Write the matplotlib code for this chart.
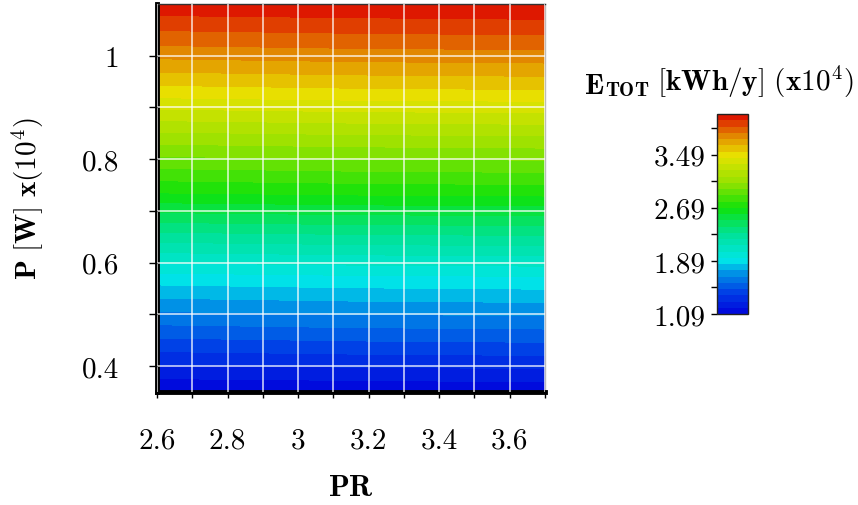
import matplotlib
matplotlib.use("Agg")
import matplotlib.pyplot as plt
import numpy as np
from matplotlib.colors import LinearSegmentedColormap

# grid (PR across, P [x10^4 W] down)
pr_values = [2.6, 3.15, 3.7]
p_values = [0.35, 0.45, 0.57, 0.65, 0.735, 0.85, 0.93, 1.02, 1.10]
e_tot = [
    [1.09, 1.10, 1.11],
    [1.45, 1.47, 1.48],
    [1.89, 1.91, 1.92],
    [2.27, 2.29, 2.30],
    [2.69, 2.71, 2.72],
    [3.15, 3.17, 3.18],
    [3.49, 3.51, 3.52],
    [3.82, 3.84, 3.85],
    [4.08, 4.09, 4.10],
]

x_ticks = [2.6, 2.8, 3.0, 3.2, 3.4, 3.6]
x_labels = ["2.6", "2.8", "3", "3.2", "3.4", "3.6"]
y_ticks = [0.4, 0.6, 0.8, 1.0]
y_labels = ["0.4", "0.6", "0.8", "1"]
cb_ticks = [1.09, 1.89, 2.69, 3.49]
cb_minor = [1.49, 2.29, 3.09, 3.89]
e_min, e_max = 1.09, 4.10

plt.rcParams["font.family"] = "cmr10"
plt.rcParams["mathtext.fontset"] = "cm"
plt.rcParams["axes.formatter.use_mathtext"] = True

cmap = LinearSegmentedColormap.from_list("etot", [
    (0.0, (0/255, 5/255, 220/255)),
    (0.10, (0/255, 60/255, 230/255)),
    (0.20, (0/255, 145/255, 230/255)),
    (0.266, (0/255, 230/255, 232/255)),
    (0.40, (0/255, 226/255, 150/255)),
    (0.532, (15/255, 226/255, 10/255)),
    (0.66, (150/255, 226/255, 0/255)),
    (0.797, (232/255, 226/255, 0/255)),
    (0.90, (226/255, 130/255, 0/255)),
    (1.0, (222/255, 10/255, 0/255)),
])

fig = plt.figure(figsize=(8.58, 5.06), dpi=100)
ax = fig.add_axes([0.183, 0.2233, 0.452, 0.767])

X, Y = np.meshgrid(pr_values, p_values)
levels = np.linspace(e_min - 0.001, e_max + 0.001, 33)
cs = ax.contourf(X, Y, np.array(e_tot), levels=levels, cmap=cmap,
                 vmin=e_min, vmax=e_max)

ax.set_xlim(2.6, 3.7)
ax.set_ylim(0.35, 1.1)
ax.set_xticks(x_ticks)
ax.set_xticklabels(x_labels)
ax.set_xticks(np.arange(2.7, 3.75, 0.2), minor=True)
ax.set_yticks(y_ticks)
ax.set_yticklabels(y_labels)
ax.set_yticks([0.5, 0.7, 0.9], minor=True)
ax.grid(True, which="both", color="white", lw=1.1, alpha=0.85)
ax.set_axisbelow(False)

ax.tick_params(axis="x", which="both", direction="out", length=4, width=1,
               pad=21, labelsize=21)
ax.tick_params(axis="y", which="both", direction="out", length=6, width=1,
               pad=21, labelsize=21)
for side in ("left", "bottom"):
    ax.spines[side].set_linewidth(3.5)
    ax.spines[side].set_color("black")
ax.spines["top"].set_linewidth(1)
ax.spines["top"].set_color("#333333")
ax.spines["right"].set_linewidth(1)
ax.spines["right"].set_color("#bbbbbb")

ax.set_xlabel(r"$\mathbf{PR}$", fontsize=22, labelpad=15)
ax.set_ylabel(r"$\mathbf{P\ [W]\ x(10^4)}$", fontsize=21, labelpad=26)

# colorbar
cax = fig.add_axes([0.8357, 0.3775, 0.0361, 0.395])
cb = fig.colorbar(cs, cax=cax)
cb.set_ticks(cb_ticks)
cb.set_ticklabels(["%.2f" % t for t in cb_ticks])
cax.yaxis.set_ticks(cb_minor, minor=True)
cax.set_ylim(e_min, e_max)
cax.yaxis.set_ticks_position("left")
cax.yaxis.set_label_position("left")
cax.tick_params(which="both", direction="out", length=4, width=1, pad=4,
                labelsize=21)
cb.outline.set_linewidth(1)
cb.outline.set_edgecolor("#222222")

# colorbar title, E with small caps TOT
t1 = fig.text(0.681, 0.815, r"$\mathbf{E}$", fontsize=21, va="baseline")
t2 = ax.annotate(r"$\mathbf{TOT}$", xy=(1, 0), xycoords=t1, fontsize=14.5,
                 va="bottom", ha="left", annotation_clip=False)
t3 = ax.annotate(r"$\mathbf{\ [kWh/y]\ (x10^4)}$", xy=(1, 0), xycoords=t2,
                 fontsize=21, va="bottom", ha="left", annotation_clip=False)

plt.savefig("out.png", dpi=100)
